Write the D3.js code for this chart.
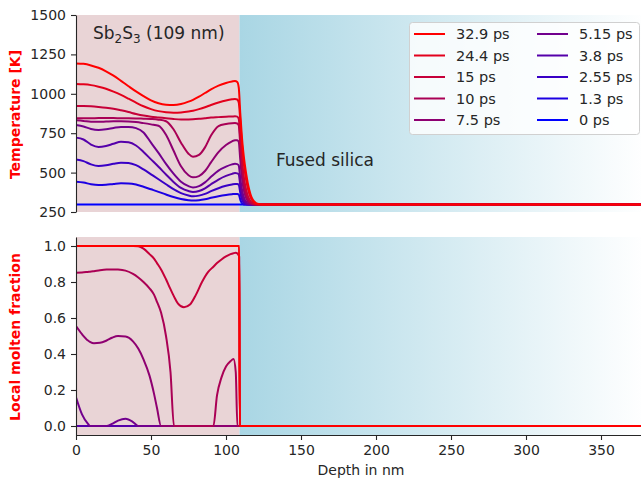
<!DOCTYPE html>
<html>
<head>
<meta charset="utf-8">
<script src="https://cdn.jsdelivr.net/npm/d3@7"></script>
<style>
  body { margin: 0; background: #ffffff; }
  svg { display: block; font-family: "DejaVu Sans", sans-serif; }
</style>
</head>
<body>
<svg id="chart" width="641" height="480"></svg>
<script>
// ---- data -------------------------------------------------------------
// Delay times after the pump pulse (legend labels), earliest first
const times = ["0 ps", "1.3 ps", "2.55 ps", "3.8 ps", "5.15 ps", "7.5 ps", "10 ps", "15 ps", "24.4 ps", "32.9 ps"];

// Depth grid for the temperature profiles (nm): film 0-109 nm, fused silica beyond
const depth = [0, 5, 10, 15, 20, 25, 30, 35, 40, 45, 50, 55, 60, 65, 70, 75, 78, 82, 86, 90, 95, 100, 104, 106, 107.5, 108.5,
               109.5, 110.5, 111.5, 112.5, 113.5, 114.5, 115.5, 117, 119, 121, 124, 380];

// Temperature [K] at each depth, one array per delay time
const temp0    = [297,297,297,297,297,297,297,297,297,297,297,297,297,297,297,297,297,297,297,297,297,297,297,297,297,297, 297,297,297,297,297,297,297,297,297,297,297,297];
const temp1_3  = [442,437,426,421,423,428,432,431,424,410,394,378,361,345,332,325,323,325,331,340,350,358,363,365,364,361, 329,309,300,297,297,297,297,297,297,297,297,297];
const temp2_55 = [583,573,552,542,546,556,563,561,547,520,489,458,426,395,370,355,350,354,365,382,401,416,425,428,427,422, 374,335,315,304,299,297,297,297,297,297,297,297];
const temp3_8  = [722,710,678,663,669,683,695,692,672,631,584,537,488,441,403,383,377,383,400,426,456,479,492,497,495,488, 420,366,331,314,304,299,298,297,297,297,297,297];
const temp5_15 = [802,792,777,771,775,783,790,790,782,755,690,625,555,493,442,414,406,414,438,473,513,538,552,556,554,545, 465,400,356,329,314,305,300,298,297,297,297,297];
const temp7_5  = [832,828,823,822,824,826,826,825,821,814,806,797,740,640,540,483,470,478,510,565,630,675,698,706,705,695, 583,479,408,364,336,318,308,300,297,297,297,297];
const temp10   = [845,845,845,846,846,846,845,845,844,842,840,836,826,775,690,620,600,612,660,735,795,808,813,814,812,800, 676,553,460,398,357,332,317,304,298,297,297,297];
const temp15   = [923,923,921,917,912,905,895,884,872,862,855,850,845,840,837,837,838,841,845,849,852,855,856,857,855,840, 721,597,502,435,388,355,332,312,300,297,297,297];
const temp24_4 = [1062,1060,1055,1045,1032,1014,993,969,944,921,903,890,883,880,882,888,893,903,915,929,945,958,965,967,964,945, 831,697,590,509,449,402,366,330,307,299,297,297];
const temp32_9 = [1193,1190,1180,1165,1143,1115,1082,1048,1015,985,958,940,931,929,935,950,962,982,1005,1028,1052,1069,1078,1081,1075,1040, 880,740,635,555,490,435,392,345,315,302,298,297];

// Depth grid for the molten-fraction profiles (nm)
const fracDepth = [0, 4, 8, 9.3, 12, 16, 20.4, 24, 28, 33, 38, 41.5, 45, 49, 52, 54, 56.7, 60, 63, 65.3,
                   68, 72, 76, 80, 84, 88, 91.6, 94, 97, 100, 103, 105, 106.5, 107.6, 108.3, 108.8, 109.2, 380];

// Local molten fraction at each depth, one array per delay time
const frac0    = [0,0,0,0,0,0,0,0,0,0, 0,0,0,0,0,0,0,0,0,0, 0,0,0,0,0,0,0,0,0,0, 0,0,0,0,0,0,0,0];
const frac1_3  = [0,0,0,0,0,0,0,0,0,0, 0,0,0,0,0,0,0,0,0,0, 0,0,0,0,0,0,0,0,0,0, 0,0,0,0,0,0,0,0];
const frac2_55 = [0,0,0,0,0,0,0,0,0,0, 0,0,0,0,0,0,0,0,0,0, 0,0,0,0,0,0,0,0,0,0, 0,0,0,0,0,0,0,0];
const frac3_8  = [0,0,0,0,0,0,0,0,0,0, 0,0,0,0,0,0,0,0,0,0, 0,0,0,0,0,0,0,0,0,0, 0,0,0,0,0,0,0,0];
const frac5_15 = [0.16,0.065,0.012,0,0,0,0,0.012,0.03,0.04, 0.022,0,0,0,0,0,0,0,0,0, 0,0,0,0,0,0,0,0,0,0, 0,0,0,0,0,0,0,0];
const frac7_5  = [0.555,0.51,0.475,0.468,0.46,0.462,0.475,0.49,0.5,0.497, 0.47,0.43,0.37,0.28,0.18,0.1,0,0,0,0, 0,0,0,0,0,0,0,0,0,0, 0,0,0,0,0,0,0,0];
const frac10   = [0.852,0.853,0.856,0.857,0.86,0.865,0.869,0.87,0.869,0.863, 0.845,0.825,0.8,0.765,0.73,0.69,0.63,0.5,0.3,0, 0,0,0,0,0,0,0,0.17,0.27,0.33, 0.36,0.372,0.3,0,0,0,0,0];
const frac15   = [1,1,1,1,1,1,1,1,1,1, 1,0.998,0.985,0.955,0.93,0.905,0.87,0.815,0.76,0.72, 0.68,0.66,0.675,0.73,0.8,0.855,0.885,0.905,0.925,0.942, 0.955,0.96,0.962,0.958,0.95,0.94,0,0];
const frac24_4 = [1,1,1,1,1,1,1,1,1,1, 1,1,1,1,1,1,1,1,1,1, 1,1,1,1,1,1,1,1,1,1, 1,1,1,1,1,1,0,0];
const frac32_9 = [1,1,1,1,1,1,1,1,1,1, 1,1,1,1,1,1,1,1,1,1, 1,1,1,1,1,1,1,1,1,1, 1,1,1,1,1,1,0,0];

const tempSeries = [temp0, temp1_3, temp2_55, temp3_8, temp5_15, temp7_5, temp10, temp15, temp24_4, temp32_9];
const fracSeries = [frac0, frac1_3, frac2_55, frac3_8, frac5_15, frac7_5, frac10, frac15, frac24_4, frac32_9];

const filmThickness = 109;   // nm
const tempTicks = [250, 500, 750, 1000, 1250, 1500];
const fracTicks = [0, 0.2, 0.4, 0.6, 0.8, 1.0];
const depthTicks = [0, 50, 100, 150, 200, 250, 300, 350];

// ---- scales ------------------------------------------------------------
const svg = d3.select("#chart");
const x  = d3.scaleLinear().domain([0, 380]).range([76, 646]);
const yT = d3.scaleLinear().domain([250, 1500]).range([212, 15]);
const yF = d3.scaleLinear().domain([-0.05, 1.05]).range([435, 237]);
const color = i => d3.interpolateRgb("#0000ff", "#ff0000")(i / (times.length - 1));

const ink = "#262626";
const defs = svg.append("defs");
const grad = defs.append("linearGradient").attr("id", "silica")
  .attr("x1", "0").attr("x2", "1").attr("y1", "0").attr("y2", "0");
grad.append("stop").attr("offset", "0").attr("stop-color", "#a9d6e4");
grad.append("stop").attr("offset", "1").attr("stop-color", "#ffffff");

function drawPanel(id, y, series, xs, ticks, fmt, label) {
  const [y0, y1] = y.range();   // bottom, top in pixels
  defs.append("clipPath").attr("id", "clip-" + id)
    .append("rect").attr("x", x(0)).attr("y", y1).attr("width", x(380) - x(0)).attr("height", y0 - y1);

  const g = svg.append("g");
  // film and substrate backgrounds
  g.append("rect").attr("x", x(0)).attr("y", y1)
    .attr("width", x(filmThickness) - x(0)).attr("height", y0 - y1).attr("fill", "#e9d4d6");
  g.append("rect").attr("x", x(filmThickness)).attr("y", y1)
    .attr("width", x(380) - x(filmThickness)).attr("height", y0 - y1).attr("fill", "url(#silica)");

  const line = d3.line().x(d => x(d[0])).y(d => y(d[1])).curve(d3.curveMonotoneX);
  const lines = g.append("g").attr("clip-path", "url(#clip-" + id + ")");
  series.forEach((vals, i) => {
    lines.append("path")
      .datum(xs.map((d, k) => [d, vals[k]]))
      .attr("d", line)
      .attr("fill", "none")
      .attr("stroke", color(i))
      .attr("stroke-width", 2)
      .attr("stroke-linejoin", "round");
  });

  const ax = svg.append("g").attr("transform", `translate(${x(0)},0)`)
    .call(d3.axisLeft(y).tickValues(ticks).tickFormat(fmt).tickSize(5).tickPadding(5).tickSizeOuter(0));
  ax.select(".domain").attr("stroke", ink).attr("stroke-width", 1.1);
  ax.selectAll(".tick line").attr("stroke", ink).attr("stroke-width", 1.1);
  ax.selectAll(".tick text").attr("fill", ink).style("font-size", "14px").style("font-family", "DejaVu Sans");

  svg.append("text")
    .attr("transform", `translate(15,${(y0 + y1) / 2 + 1}) rotate(-90)`)
    .attr("text-anchor", "middle").attr("dominant-baseline", "central")
    .attr("fill", "#ff0000").style("font-weight", "bold").style("font-size", "14px")
    .text(label);
}

drawPanel("temp", yT, tempSeries, depth, tempTicks, d3.format("d"), "Temperature [K]");
drawPanel("frac", yF, fracSeries, fracDepth, fracTicks, d3.format(".1f"), "Local molten fraction");

// shared depth axis under the lower panel
const bx = svg.append("g").attr("transform", `translate(0,${yF.range()[0]})`)
  .call(d3.axisBottom(x).tickValues(depthTicks).tickFormat(d3.format("d")).tickSize(5).tickPadding(5.5).tickSizeOuter(0));
bx.select(".domain").attr("stroke", ink).attr("stroke-width", 1.1);
bx.selectAll(".tick line").attr("stroke", ink).attr("stroke-width", 1.1);
bx.selectAll(".tick text").attr("fill", ink).style("font-size", "14px").style("font-family", "DejaVu Sans");

svg.append("text").attr("x", (x(0) + x(380)) / 2).attr("y", 475)
  .attr("text-anchor", "middle").attr("fill", ink).style("font-size", "14px")
  .text("Depth in nm");

// material annotations
const film = svg.append("text").attr("x", 93).attr("y", 39).attr("fill", ink).style("font-size", "17px");
film.append("tspan").text("Sb");
film.append("tspan").attr("dy", 3.5).style("font-size", "12px").text("2");
film.append("tspan").attr("dy", -3.5).text("S");
film.append("tspan").attr("dy", 3.5).style("font-size", "12px").text("3");
film.append("tspan").attr("dy", -3.5).text(" (109 nm)");

svg.append("text").attr("x", 276).attr("y", 166).attr("fill", ink).style("font-size", "17px")
  .text("Fused silica");

// legend: two columns, latest delay first
const lg = svg.append("g");
lg.append("rect").attr("x", 409.5).attr("y", 22.5).attr("width", 230).attr("height", 112).attr("rx", 3)
  .attr("fill", "#ffffff").attr("fill-opacity", 0.8).attr("stroke", "#d0d0d0").attr("stroke-width", 1);
const order = d3.range(times.length - 1, -1, -1);
order.forEach((idx, k) => {
  const col = Math.floor(k / 5), row = k % 5;
  const lx = col === 0 ? 414 : 537;
  const ly = 34 + row * 21.5;
  lg.append("line").attr("x1", lx).attr("x2", lx + 31).attr("y1", ly).attr("y2", ly)
    .attr("stroke", color(idx)).attr("stroke-width", 2);
  lg.append("text").attr("x", lx + 42).attr("y", ly).attr("dominant-baseline", "central")
    .attr("fill", ink).style("font-size", "14.5px").text(times[idx]);
});
</script>
</body>
</html>
